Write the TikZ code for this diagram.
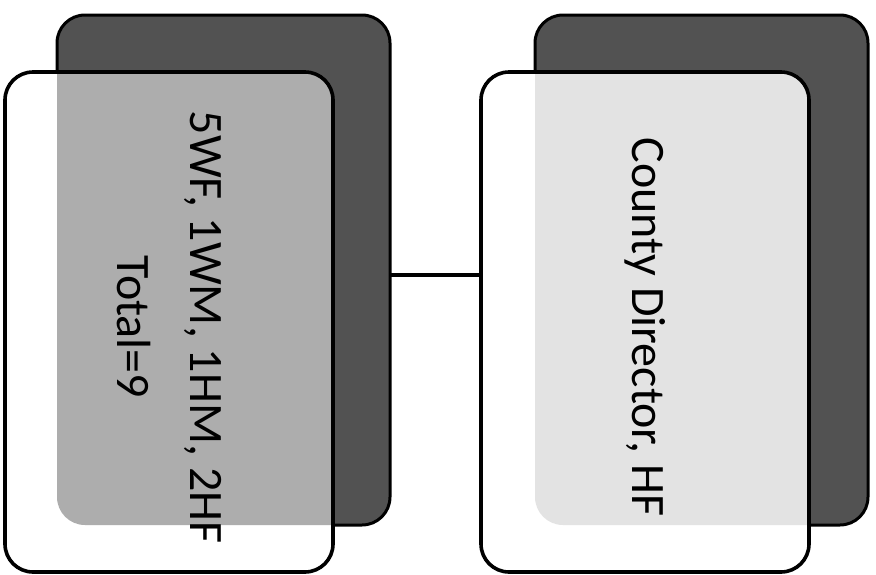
\documentclass[tikz,border=0pt]{standalone}
\usepackage{fontspec}
\setmainfont{Carlito}
\usetikzlibrary{positioning}

\definecolor{backgrey}{gray}{0.32}
\definecolor{leftshade}{gray}{0.68}
\definecolor{rightshade}{gray}{0.89}

\tikzset{
  backcard/.style={rectangle, rounded corners=28pt, draw=black, line width=3pt,
    fill=backgrey, minimum width=333pt, minimum height=510pt, outer sep=0pt},
  frontcard/.style={rectangle, rounded corners=28pt, fill=white,
    minimum width=328pt, minimum height=500pt, outer sep=0pt},
  cardrim/.style={draw=black, line width=3.6pt, rounded corners=28pt},
  cardtext/.style={rotate=-90, align=center, font=\fontsize{48}{73}\selectfont},
  link/.style={draw=black, line width=3.4pt}
}

\begin{document}
\begin{tikzpicture}[x=1pt, y=-1pt]
  \useasboundingbox (0,0) rectangle (876,574);

  %Back cards
  \node[backcard] (lback) at (223.5,270) {};
  \node[backcard, right=145pt of lback] (rback) {};

  %Front cards
  \node[frontcard] (lfront) at (169,322) {};
  \node[frontcard, right=148pt of lfront] (rfront) {};

  % Back card seen through the front card
  \begin{scope}
    \clip[rounded corners=28pt] (lfront.south west) rectangle (lfront.north east);
    \fill[leftshade, rounded corners=28pt] (lback.south west) rectangle (lback.north east);
  \end{scope}
  \begin{scope}
    \clip[rounded corners=28pt] (rfront.south west) rectangle (rfront.north east);
    \fill[rightshade, rounded corners=28pt] (rback.south west) rectangle (rback.north east);
  \end{scope}
  \draw[cardrim] (lfront.south west) rectangle (lfront.north east);
  \draw[cardrim] (rfront.south west) rectangle (rfront.north east);

  % Texts
  \node[cardtext] (ltext) at ([yshift=-5pt]lfront.center) {5WF, 1WM, 1HM, 2HF\\Total=9};
  \node[cardtext] (rtext) at ([yshift=-5pt]rfront.center) {County Director, HF};

  % Connect the cards
  \draw[link] ([yshift=-5pt]lback.east) -- ([yshift=-5pt]lback.east -| rfront.west);
\end{tikzpicture}
\end{document}
